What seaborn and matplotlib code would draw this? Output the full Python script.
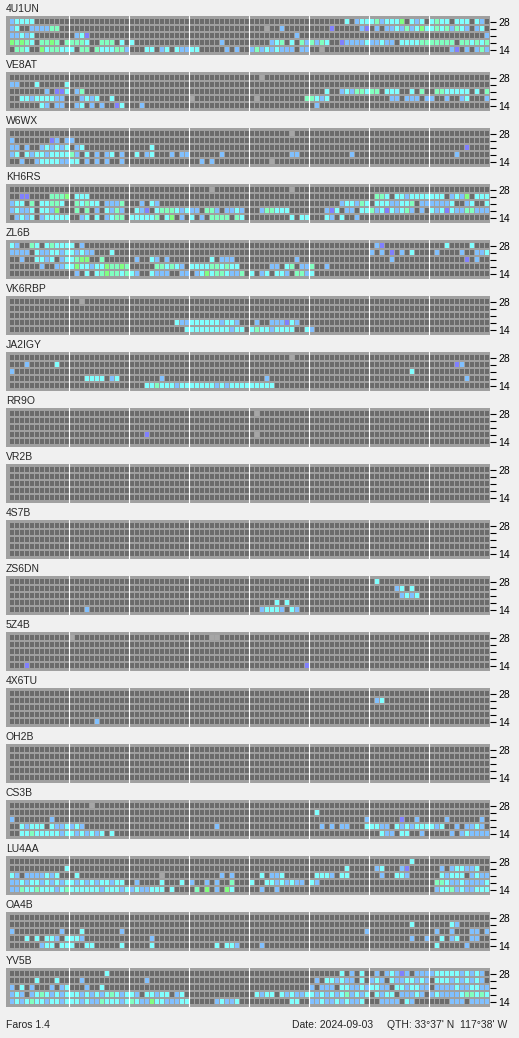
import numpy as np
import matplotlib
matplotlib.use("Agg")
import matplotlib.pyplot as plt
import seaborn as sns
from matplotlib.colors import ListedColormap

# beacon names, top to bottom
stations = ["4U1UN", "VE8AT", "W6WX", "KH6RS", "ZL6B", "VK6RBP", "JA2IGY", "RR9O", "VR2B",
            "4S7B", "ZS6DN", "5Z4B", "4X6TU", "OH2B", "CS3B", "LU4AA", "OA4B", "YV5B"]
band_labels = ["28", "", "", "", "14"]

# one string per band (28, 24, 21, 18, 14 MHz), 96 slots = 8 hours x 12, spaces split the hours
# . nothing heard, x slot missed, c/b/m/g/p = signal level colours
s_4U1UN = [
    "bcccc....... ............ ............ ............ ............ .......c.bcc cmbcccg.cbc. cmcc.ccc.cb.",
    "bc..bbbbmm.. ............ ............ ............ ...x..b..... ....p.....bp .b.bbcbmbcgc cmcmbmcb.bc.",
    "bbcbc....... .bcp........ ............ ............ .........b.. ............ ............ ...........b",
    "gmgmc.mmgm.m mmmc..mmm.c. c........... ......b..... ....bcm.c.mb mbmc..pbbbbc bbcbb.ccccmm mmmmm.mmcmcm",
    ".mmc..gcmmcc c.mm.mcccmmb ...cc.bc.cbb cc.....b.b.. bmbcbcbbb.bb ..x......... ............ ....bp.b.bmb",
]
s_VE8AT = [
    "............ ............ ............ ............ ..x......... ............ ............ ............",
    "bb...c.....c ............ ............ ............ ............ ............ ............ ............",
    ".......b.ppc .bm......... ............ ............ ............ ...c..bcbmmc mm.ccc..c.m. .mmccccc.c.m",
    "..ccbccccbb. ..bcbc..c... ............ x........... .x.........m mcbc........ ....bb.bbb.b b..b..bc...b",
    "......cb.bb. .bc.b.b..pc. ..b......... ............ ............ .b.......... ............ ............",
]
s_W6WX = [
    "............ ............ ............ ............ ........x... ............ ............ ............",
    "b.......pb.b b........... ............ ............ ............ ............ ............ ............",
    "bb.b..bcbcbc .bc......... ....c....... ............ ............ ............ ............ .......p....",
    "bc.cbccbcccc mb.c.b.bc.b. .c.bc...b.bb ......b..... ........bb.. ........b... ............ .....b......",
    "..b..bccccbb cc.b.b.b..b. ............ ..b.b....... ....x....... ............ ............ ............",
]
s_KH6RS = [
    "............ ............ ............ ....x....... ........x... ............ ............ ............",
    "..pp....mmmg .ccc........ ............ ............ ............ ............ .mmc.ccbcccc ccc.bcbg.ccc",
    "bcc.m.ccmmc. .mcmcc.bbbm. ..b.cb...... ............ ............ ......bccbmc .cccbbccm.bb bbbbc..bc..c",
    "bcbbc.ccbg.. .m.m.b.cbmb. .cbp.cmmmcbc bb.mmb.bbcb. ..bmmccc.... ...bpc.bb.cc mbcpcbcmb.b. cbcpcbbmmbbb",
    ".bcbc.bccccc ..bc.c.bcmm. cccccm.cg.b. c.b.mmmm.mc. ........c.cc ...cb.c..b.. ............ ............",
]
s_ZL6B = [
    "cb..mc.cmccc c.b......... ............ ............ ............ ............ .bp......... ...c....c...",
    "bbbb.cbbccbc cbcbb...c... ............ ............ ............ ............ b.b.p.b.c... .b....b..bbc",
    "..b..ccbc.bc cmgg..m..... .b..cb.b.... ....c.bbb... .........b.. ............ ....b....... .......p.b..",
    "......b..bbc cgccbccgmmgm .....mmcmcb. ccccmmcmcc.. ....bb.cm.bb m..b........ ............ ............",
    "............ .b.c.cmgmmcm cb..cbbb..bb .bcgcmmcbbm. c.bc.ccb.mmb c........... ............ ............",
]
s_VK6RBP = [
    "............ ..x......... ............ ............ ............ ............ ............ ............",
    "............ ............ ............ ............ ............ ............ ............ ............",
    "............ ............ ............ ............ ............ ............ ............ ............",
    "............ ............ .........cbb ccccccbccb.. .b..bbbpcb.. ............ ............ ............",
    "............ ............ ...........c ccccccccbcc. cmccbcccc..c b........... ............ ............",
]
s_JA2IGY = [
    "............ ............ ............ ............ ........x... ............ ............ ............",
    "...b.....c.. ............ ............ ............ ............ ............ ............ .....pb.....",
    "b........... ............ ............ ............ ............ ............ ........c... ............",
    "............ ...cccc.bc.. ......b..... ............ ...b........ ............ ............ .......b....",
    "............ ............ ...ccmcccbcc cccccbcbcccc ccccc....... ............ ............ ............",
]
s_RR9O = [
    "............ ............ ............ ............ .x.......... ............ ............ ............",
    "............ ............ ............ ............ ............ ............ ............ ............",
    "............ ............ ............ ............ ............ ............ ............ ............",
    "............ ............ ...p........ ............ .x.......... ............ ............ ............",
    "............ ............ ............ ............ ............ ............ ............ ............",
]
s_EMPTY = ["." * 96] * 5
s_VR2B = s_EMPTY
s_4S7B = s_EMPTY
s_ZS6DN = [
    "............ ............ ............ ............ ............ ............ .c.......... ............",
    "............ ............ ............ ............ ............ ............ .....bc.c... ............",
    "............ ............ ............ ............ ............ ............ ......bcbc.. ............",
    "............ ............ ............ ............ .....c.c.... ............ ............ ............",
    "............ ...b........ ............ ............ ..bcccb.cb.. ............ ............ ............",
]
s_5Z4B = [
    "............ x........... ............ ....xx...... ............ ............ ............ ............",
    "............ ............ ............ ............ ............ ............ ............ ............",
    "............ ............ ............ ............ ............ ............ ............ ............",
    "............ ............ ............ ............ ............ ............ ............ ............",
    "...p........ ............ ............ ............ ...........p ............ ............ ............",
]
s_4X6TU = [
    "............ ............ ............ ............ ............ ............ ............ ............",
    "............ ............ ............ ............ ............ ............ .bc......... ............",
    "............ ............ ............ ............ ............ ............ ............ ............",
    "............ ............ ............ ............ ............ ............ ............ ............",
    "............ .....b...... ............ ............ ............ ............ ............ ............",
]
s_OH2B = s_EMPTY
s_CS3B = [
    "............ ....x....... ............ ............ ............ ............ ............ ............",
    "............ ............ ............ ............ ............ .c.......... ............ ............",
    "b.......b... ............ ............ ............ ............ ...........b ......p..b.. ...b......b.",
    "..cbccc.cbbc bcb......... ............ .....b...... ............ ..b.b.bb...c ccbb.cbcbccc cbc..b.bbcb.",
    "..ccmcccccbc cbcbcbc.c... ............ ............ ............ ............ ..cbb.cc..b. ....b.bcbbbb",
]
s_LU4AA = [
    "............ ............ ............ ............ ............ ............ ........c... ............",
    "...........c ............ ............ ............ ............ .......c.... .bc...bp.... ..b.bccbbc..",
    "cb.bbbbcbc.. .c.......... ......x..... ......b.b... ..c.bbc..... .cccb.cc.... ..b..ccb.... ..cbccc.bcbb",
    "bbcbccbcbcbc cbcbcbccbcc. .b....c...c. b..b.b..m... c..ccbcbcbb. cb.......... ............ .mmcbbcbbbbc",
    "bbmccmcccbcm ccccccbcccbc bcbbccc.c... .m.g.b.gc... ..b..b...... ............ ............ .bccmbcbbccc",
]
s_OA4B = [
    "............ ............ ............ ............ ............ ............ ............ ............",
    "............ ............ ............ ............ ............ ............ ........c... ....cb......",
    "b.........b. ..c.......b. ............ ............ ............ ...........b ............ .b..b...bb.b",
    "...c.c.ccb.c ccb......... ....b....... ............ ............ ............ ........b..b ..c.bc..bb..",
    "......bcc.cc c..cc.....c. ....c....... .....c.ccb.. ..b......... ............ ............ .c.....b....",
]
s_YV5B = [
    "............ .......c.... ............ ............ ............ ......c.b.c. .b.bcbpb.bbb bcccccbcbcb.",
    ".....c...c.. ..b......... ...b........ ............ ............ .b.ccbcbb.c. bcb.cbbccbcb .cccbcbcbcb.",
    "b.c.b...b.bc ...b..c..... ............ ............ ............ b.bbb.ccbbcb ccbb.ccbccbb .bbbbcbbccbb",
    "bcb.bcmcbcbc ccbcbcbcmcbc cb.ccbcc.bc. ............ .cbcc.cbcbbc cbcbcbcmbcbc .cbcc.bbbcb. bcbbbbcmmcmc",
    "bcbcmccbccbc ccbcbbmcccbc mcbbgccbbbcc .....bcbbc.. ........cc.. bbcbbcbcbbc. ..bbbb.cb... ....bbb.bbbb",
]

grids = [s_4U1UN, s_VE8AT, s_W6WX, s_KH6RS, s_ZL6B, s_VK6RBP, s_JA2IGY, s_RR9O, s_VR2B,
         s_4S7B, s_ZS6DN, s_5Z4B, s_4X6TU, s_OH2B, s_CS3B, s_LU4AA, s_OA4B, s_YV5B]

codes = {".": 0, "x": 1, "c": 2, "b": 3, "m": 4, "g": 5, "p": 6}
cell_colors = ["#6b6b6b", "#a6a6a6", "#80ffff", "#80c0ff", "#80ffc0", "#80ff80", "#8080ff"]
cmap = ListedColormap(cell_colors)
panel_grey = "#a0a0a0"
bg = "#f0f0f0"


def to_matrix(rows):
    out = []
    for r in rows:
        r = r.replace(" ", "")
        r = (r + "." * 96)[:96]
        out.append([codes[ch] for ch in r])
    return np.array(out)


sns.set_theme(style="white")
plt.rcParams["font.family"] = ["Liberation Sans", "DejaVu Sans"]

W, H = 519, 1038
fig = plt.figure(figsize=(W / 100, H / 100), dpi=100, facecolor=bg)

for i, (name, grid) in enumerate(zip(stations, grids)):
    top = 16 + 56 * i
    ax = fig.add_axes([6 / W, 1 - (top + 39) / H, 484 / W, 39 / H])
    sns.heatmap(to_matrix(grid), ax=ax, cmap=cmap, vmin=-0.5, vmax=6.5, cbar=False,
                xticklabels=False, yticklabels=False, linewidths=0)
    ax.set_facecolor(panel_grey)
    # gaps between cells
    ax.vlines(np.arange(0, 97), 0, 5, color=panel_grey, lw=0.72)
    ax.hlines(np.arange(0, 6), 0, 96, color=panel_grey, lw=1.44)
    # hour separators
    for x in range(12, 96, 12):
        ax.axvline(x, color="white", lw=0.8)
    ax.set_xlim(-0.5, 96.3)
    ax.set_ylim(5 + 2 / 7, -2 / 7)
    for sp in ax.spines.values():
        sp.set_visible(False)

    ax.yaxis.tick_right()
    ax.set_yticks(np.arange(5) + 0.6)
    ax.set_yticklabels(band_labels)
    ax.tick_params(axis="y", right=True, left=False, length=4, width=0.8, pad=2,
                   labelsize=7.5, colors="black")
    ax.set_xticks([])

    fig.text(6 / W, 1 - (top - 3.5) / H, name, fontsize=7.5, va="baseline", ha="left")

fig.text(6 / W, 1 - 1025 / H, "Faros 1.4", fontsize=7.5, va="center", ha="left")
fig.text(292 / W, 1 - 1025 / H, "Date: 2024-09-03", fontsize=7.5, va="center", ha="left")
fig.text(387 / W, 1 - 1025 / H, "QTH: 33\u00b037' N  117\u00b038' W", fontsize=7.5,
         va="center", ha="left")

fig.savefig("out.png", dpi=100, facecolor=bg)
